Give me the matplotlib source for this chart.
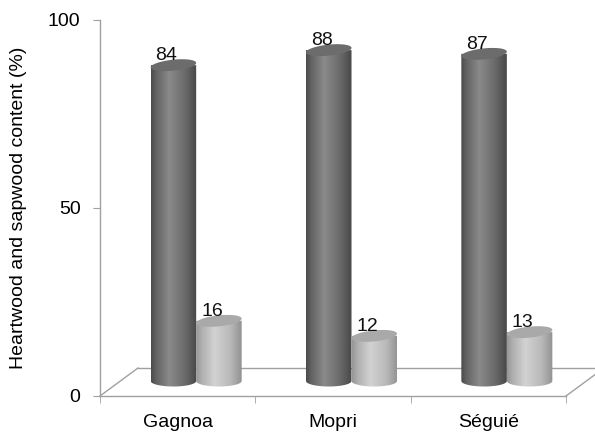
import numpy as np
import matplotlib
matplotlib.use("Agg")
import matplotlib.pyplot as plt
from matplotlib.patches import Polygon
from matplotlib.lines import Line2D

plt.rcParams['font.family'] = ['Liberation Sans', 'DejaVu Sans']

categories = ["Gagnoa", "Mopri", "Séguié"]
heartwood = [84, 88, 87]
sapwood = [16, 12, 13]
yticks = [0, 50, 100]

FS = 14
fig = plt.figure(figsize=(5.95, 4.34), dpi=100)
ax = fig.add_axes([100/595, 38/434, 466/595, 376/434])

grey = "#a0a0a0"
for s in ["top", "right"]:
    ax.spines[s].set_visible(False)
for s in ["left", "bottom"]:
    ax.spines[s].set_color(grey)
    ax.spines[s].set_linewidth(1.0)

ax.set_yticks(yticks)
ax.set_yticklabels([str(v) for v in yticks], fontsize=FS)
ax.tick_params(axis="y", direction="out", length=5, color=grey, pad=9)
ax.set_xticks(range(len(categories)))
ax.set_xticklabels(categories, fontsize=FS)
ax.set_xticks([-0.5, 0.5, 1.5, 2.5], minor=True)
ax.tick_params(axis="x", which="major", length=0, pad=13)
ax.tick_params(axis="x", which="minor", direction="out", length=5, color=grey)
ax.set_ylabel("Heartwood and sapwood content (%)", fontsize=FS, labelpad=15)

ux = 3 / 466.0   # data units per px in x
uy = 100 / 376.0 # data units per px in y
ddx = 38 * ux
ddy = 28 * uy
floor_kw = dict(color=grey, lw=1.0, clip_on=False)
ax.add_line(Line2D([-0.5, -0.5 + ddx], [0, ddy], **floor_kw))
ax.add_line(Line2D([-0.5 + ddx, 2.5 + ddx], [ddy, ddy], **floor_kw))
ax.add_line(Line2D([2.5, 2.5 + ddx], [0, ddy], **floor_kw))

base = 15 * uy      # bar base ellipse centre above 0
shift = 18.5 * ux   # depth shift of bars to the right
bw = 45.5 * ux      # bar width
eh = 5.5 * uy       # ellipse half-height
tilt = 4.5 * uy     # right side of top ellipse higher by this

def cylinder(x0, val, cols, top_col, z):
    x1 = x0 + bw
    xc = (x0 + x1) / 2
    top = base + val
    th = np.linspace(0, np.pi, 60)
    bx = xc - (bw / 2) * np.cos(th)      # left -> right
    by = base - eh * np.sin(th)
    body = np.vstack([[x0, top], np.column_stack([bx, by]), [x1, top]])
    clip = Polygon(body, closed=True, facecolor="none", edgecolor="none",
                   transform=ax.transData)
    t = np.linspace(0, 1, 200)
    pos = [0.0, 0.12, 0.4, 0.75, 1.0]
    r = np.interp(t, pos, cols) / 255.0
    img = np.dstack([r, r, r])
    im = ax.imshow(img, extent=[x0, x1, base - eh - 0.5, top + 0.5],
                   aspect="auto", interpolation="bilinear", zorder=z)
    im.set_clip_path(clip)
    phi = np.linspace(0, 2 * np.pi, 120)
    ex = xc + (bw / 2) * np.cos(phi)
    ey = top + eh * np.sin(phi) + tilt * (ex - xc) / bw
    ax.add_patch(Polygon(np.column_stack([ex, ey]), closed=True,
                         facecolor=top_col, edgecolor="none", zorder=z + 0.1,
                         clip_on=False))
    ax.text(xc - 7 * ux, top + eh - 1.2, str(val), ha="center", va="bottom",
            fontsize=FS, color="#111111", zorder=10, clip_on=False)

dark_cols = [75, 100, 138, 105, 72]
light_cols = [150, 175, 210, 185, 145]
for i in range(len(categories)):
    x0 = i - bw + shift
    cylinder(x0, heartwood[i], dark_cols, "#6c6c6c", 3)
    cylinder(x0 + bw, sapwood[i], light_cols, "#a9a9a9", 4)

ax.set_xlim(-0.5, 2.5)
ax.set_ylim(0, 100)
fig.savefig("out.png", dpi=100)
